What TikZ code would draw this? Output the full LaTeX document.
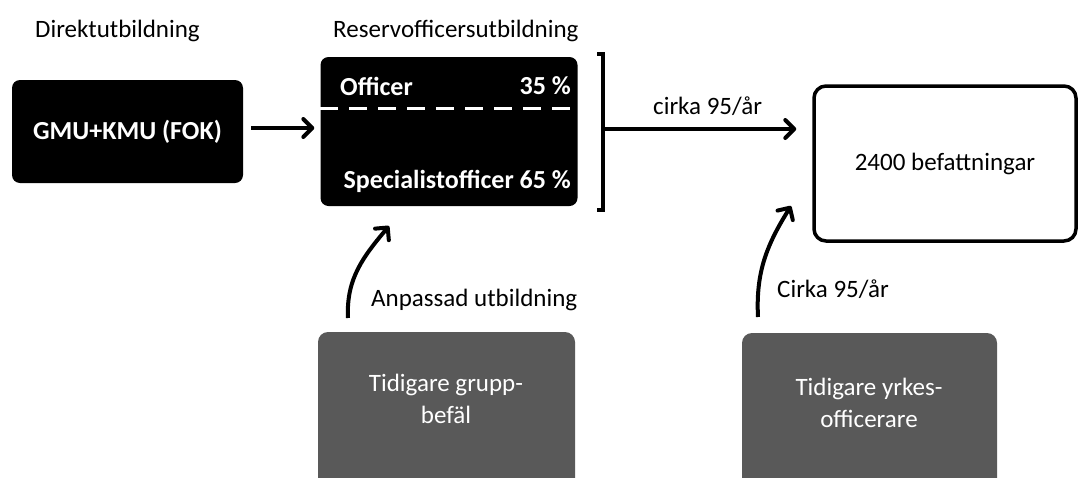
\documentclass[tikz,border=0pt]{standalone}
\usepackage{fontspec}
\setmainfont{Carlito}
\usetikzlibrary{arrows.meta}
\begin{document}
\begin{tikzpicture}[x=1pt,y=-1pt,
  txt/.style={font=\fontsize{25}{30}\selectfont, inner sep=0pt},
  btxt/.style={font=\fontsize{26}{30}\selectfont\bfseries, text=white, inner sep=0pt},
  blackbox/.style={fill=black, rounded corners=8pt, draw=none},
  whitebox/.style={draw=black, line width=3.5pt, rounded corners=12pt, fill=white},
  graybox/.style={fill=black!65, rounded corners=10pt, draw=none},
  arr/.style={line width=4pt, -{Straight Barb[length=9pt,width=18pt,line cap=round,line join=round]}},
]
\useasboundingbox (0,0) rectangle (1079,477);
\clip (0,0) rectangle (1079,477);
% headings
\node[txt, anchor=west] (h1) at (35,31) {Direktutbildning};
\node[txt, anchor=west] (h2) at (333,31) {Reservofficersutbildning};
% boxes
\node[blackbox, minimum width=231pt, minimum height=103pt] (gmu) at (127.5,131.5) {};
\node[btxt] (gmut) at (gmu.center) {GMU+KMU (FOK)};
\node[blackbox, minimum width=257pt, minimum height=149pt] (res) at (449,131.5) {};
\node[btxt, anchor=west] (off) at (340,86) {Officer};
\node[btxt, anchor=east] (p35) at (571,86) {35 \%};
\node[btxt, anchor=east] (spec) at (571,181) {Specialistofficer 65 \%};
\draw[white, line width=3pt, dash pattern=on 18pt off 11pt] (res.west |- 0,108) -- (res.east |- 0,108);
\node[whitebox, minimum width=262pt, minimum height=155pt] (pos) at (945,163.5) {};
\node[txt] (post) at (pos.center) {2400 befattningar};
\node[graybox, minimum width=257pt, minimum height=180pt] (grp) at (446.5,422) {};
\node[txt, text=white, align=center, font=\fontsize{25}{32}\selectfont] (grpt) at (446,399) {Tidigare grupp-\\befäl};
\node[graybox, minimum width=255pt, minimum height=180pt] (yrk) at (869.5,423) {};
\node[txt, text=white, align=center, font=\fontsize{25}{32}\selectfont] (yrkt) at (869,403) {Tidigare yrkes-\\officerare};
% bracket
\draw[line width=4pt] (597,54) -- (603,54) -- (603,210) -- (597,210);
\coordinate (brk) at (603,129);
% arrows
\draw[arr, shorten <=8pt, shorten >=6pt] (gmu.east |- 0,128) -- (res.west |- 0,128);
\draw[arr, shorten >=16pt] (brk) -- (pos.west |- brk) node[txt, midway, above=11pt] (lab1) {cirka 95/år};
\coordinate (s1) at (348,318);
\coordinate (e1) at (389,226);
\draw[arr] (s1) to[out=93,in=230] (e1);
\node[txt, anchor=west] (lab2) at (371,300) {Anpassad utbildning};
\coordinate (s2) at (758,317);
\coordinate (e2) at (791,206);
\draw[arr] (s2) to[out=93,in=238] (e2);
\node[txt, anchor=west] (lab3) at (777,289) {Cirka 95/år};
\end{tikzpicture}
\end{document}
